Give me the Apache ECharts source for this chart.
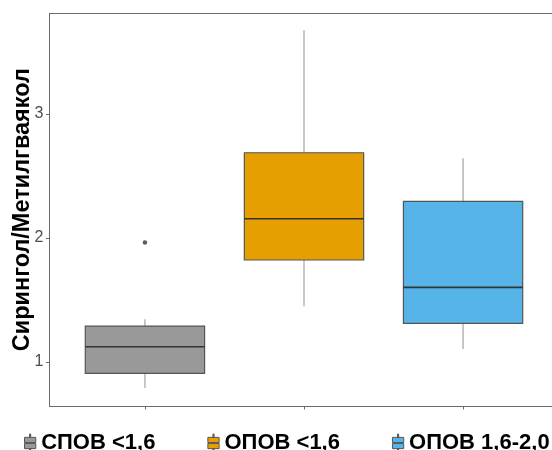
<!DOCTYPE html>
<html>
<head>
<meta charset="utf-8">
<script src="https://cdn.jsdelivr.net/npm/echarts@6/dist/echarts.min.js"></script>
<style>
  html, body { margin: 0; padding: 0; background: #fff; }
  #chart { width: 552px; height: 450px; }
</style>
</head>
<body>
<div id="chart"></div>
<script>
// Box statistics per group
const groups = ['СПОВ <1,6', 'ОПОВ <1,6', 'ОПОВ 1,6-2,0'];
const colors = ['#999999', '#E69F00', '#56B4E9'];
const whiskerLow = [0.79, 1.45, 1.105];
const q1 = [0.909, 1.823, 1.312];
const median = [1.123, 2.156, 1.602];
const q3 = [1.29, 2.688, 2.296];
const whiskerHigh = [1.344, 3.677, 2.643];
// Outlying points: [group position, value]
const outliers = [[1, 1.965]];
const yTicks = [1, 2, 3];
const yTitle = 'Сирингол/Метилгваякол';

const FONT = '"Liberation Sans", Arial, sans-serif';
const FRAME = '#6b6b6b';

const boxIcon = 'path://M4.5,0 H5.5 V3 H4.5 Z M0,3 H10 V7.6 H0 Z M0,8.4 H10 V13 H0 Z M4.5,13 H5.5 V16 H4.5 Z';

function renderBox(i, api) {
  const x = api.value(0);
  const pLo = api.coord([x, api.value(1)]);
  const pA = api.coord([x, api.value(2)]);
  const pM = api.coord([x, api.value(3)]);
  const pB = api.coord([x, api.value(4)]);
  const pHi = api.coord([x, api.value(5)]);
  const w = api.size([0.75, 0])[0];
  const cx = pM[0];
  return {
    type: 'group',
    children: [
      { type: 'line', shape: { x1: cx, y1: pHi[1], x2: cx, y2: pB[1] },
        style: { stroke: '#a3a3a3', lineWidth: 1.2 } },
      { type: 'line', shape: { x1: cx, y1: pA[1], x2: cx, y2: pLo[1] },
        style: { stroke: '#a3a3a3', lineWidth: 1.2 } },
      { type: 'rect', shape: { x: cx - w / 2, y: pB[1], width: w, height: pA[1] - pB[1] },
        style: { fill: colors[i], stroke: '#555555', lineWidth: 1.2 } },
      { type: 'line', shape: { x1: cx - w / 2, y1: pM[1], x2: cx + w / 2, y2: pM[1] },
        style: { stroke: '#333333', lineWidth: 1.6 } }
    ]
  };
}

const chart = echarts.init(document.getElementById('chart'), null, { renderer: 'canvas' });

const boxSeries = groups.map((g, i) => ({
  name: g,
  type: 'custom',
  renderItem: (params, api) => renderBox(i, api),
  itemStyle: { color: colors[i], borderColor: '#555555', borderWidth: 1 },
  encode: { x: 0, y: [1, 2, 3, 4, 5] },
  data: [[i + 1, whiskerLow[i], q1[i], median[i], q3[i], whiskerHigh[i]]],
  z: 2
}));

chart.setOption({
  animation: false,
  backgroundColor: '#ffffff',
  grid: {
    left: 49.5, right: -6.5, top: 13.3, bottom: 44,
    outerBoundsMode: 'none',
    containLabel: false,
    show: false
  },
  legend: {
    top: 427, left: 19, width: 700,
    itemWidth: 12, itemHeight: 18, itemGap: 52, itemTextGap: 8,
    icon: boxIcon,
    itemStyle: { borderColor: '#555555', borderWidth: 1 },
    textStyle: { fontFamily: FONT, fontSize: 22, fontWeight: 'bold', color: '#000' },
    data: groups
  },
  xAxis: [{
    type: 'value', min: 0.4, max: 3.6, position: 'bottom',
    axisLine: { show: true, onZero: false, lineStyle: { color: FRAME, width: 1 } },
    splitLine: { show: false },
    axisLabel: { show: false },
    axisTick: { show: true, length: 3.5, customValues: [1, 2, 3], lineStyle: { color: FRAME } }
  }, {
    // panel top edge
    type: 'value', min: 0.4, max: 3.6, position: 'top',
    axisLine: { show: true, onZero: false, lineStyle: { color: FRAME, width: 1 } },
    splitLine: { show: false },
    axisLabel: { show: false },
    axisTick: { show: false }
  }],
  yAxis: {
    type: 'value', min: 0.645, max: 3.813,
    name: yTitle, nameLocation: 'middle', nameGap: 15,
    nameMoveOverlap: false,
    nameTextStyle: { fontFamily: FONT, fontSize: 23.5, fontWeight: 'bold', color: '#000' },
    axisLine: { show: true, onZero: false, lineStyle: { color: FRAME, width: 1 } },
    splitLine: { show: false },
    axisTick: { show: true, length: 3.5, customValues: yTicks, lineStyle: { color: FRAME } },
    axisLabel: { show: true, customValues: yTicks, margin: 6, fontFamily: FONT, fontSize: 16, color: '#4d4d4d' }
  },
  series: boxSeries.concat([{
    type: 'scatter',
    data: outliers,
    symbol: 'circle', symbolSize: 4.5,
    itemStyle: { color: '#333333' },
    z: 3,
    silent: true
  }])
});
</script>
</body>
</html>
